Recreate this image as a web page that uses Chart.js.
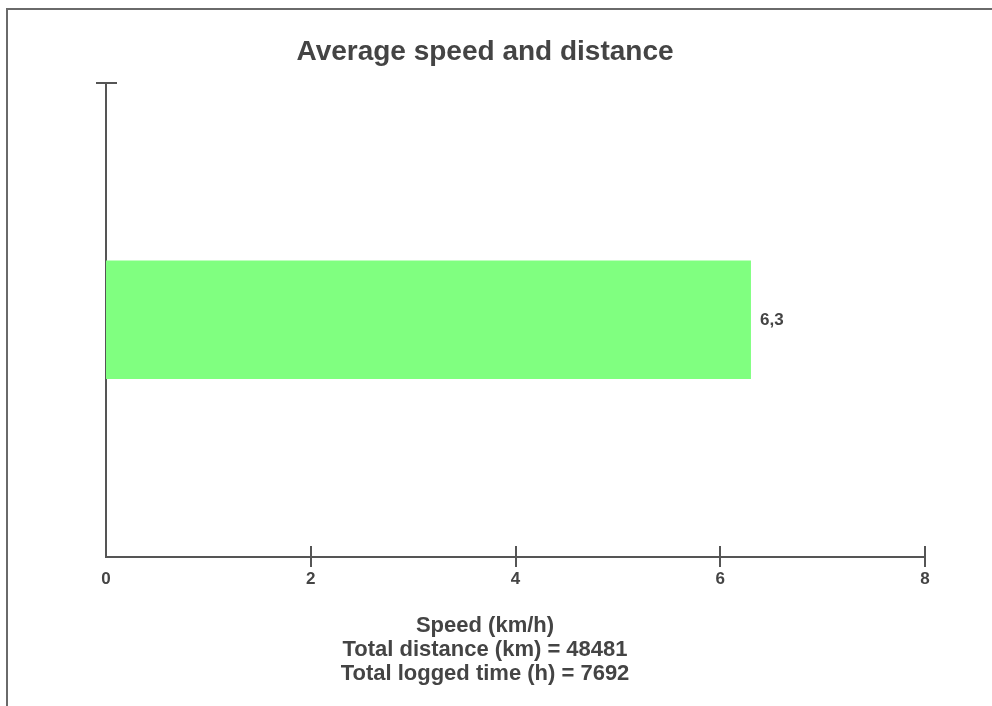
<!DOCTYPE html>
<html>
<head>
<meta charset="utf-8">
<script src="https://cdn.jsdelivr.net/npm/chart.js@4"></script>
<style>
    html, body { margin: 0; padding: 0; overflow: hidden; background: #fff; }
    #frame {
        position: absolute; left: 6px; top: 8px; width: 2000px; height: 2000px;
        border-top: 2px solid #6a6a6a; border-left: 2px solid #6a6a6a;
        pointer-events: none;
    }
    #wrap { position: absolute; left: 0; top: 0; width: 970px; height: 706px; }
</style>
</head>
<body>
<div id="frame"></div>
<div id="wrap"><canvas id="myChart"></canvas></div>
<script>
    // chart values
    var categories = ["Average speed"];
    var speedValues = [6.3];
    var xTickValues = [0, 2, 4, 6, 8];
    var totalDistance = 48481;
    var totalTime = 7692;

    var textColor = '#444444';
    var axisColor = '#555555';
    var fontFamily = '"Liberation Sans", Arial, sans-serif';

    function commaNumber(v) {
        return String(v).replace('.', ',');
    }

    // ticks crossing the axis lines, and the value label next to the bar
    var extras = {
        id: 'extras',
        afterDraw: function (chart) {
            var ctx = chart.ctx;
            var xs = chart.scales.x, ys = chart.scales.y;
            ctx.save();
            ctx.strokeStyle = axisColor;
            ctx.lineWidth = 2;
            ctx.beginPath();
            xs.ticks.forEach(function (t, i) {
                if (i === 0) return;
                var px = Math.round(xs.getPixelForTick(i));
                ctx.moveTo(px, xs.top - 11);
                ctx.lineTo(px, xs.top + 10);
            });
            var top = Math.round(ys.top);
            ctx.moveTo(ys.right - 10, top);
            ctx.lineTo(ys.right + 11, top);
            ctx.stroke();

            ctx.fillStyle = textColor;
            ctx.font = 'bold 17px ' + fontFamily;
            ctx.textAlign = 'left';
            ctx.textBaseline = 'middle';
            chart.getDatasetMeta(0).data.forEach(function (bar, i) {
                ctx.fillText(commaNumber(speedValues[i]), bar.x + 9, bar.y + 1);
            });
            ctx.restore();
        }
    };

    var ctx = document.getElementById('myChart');
    var chart = new Chart(ctx, {
        type: 'bar',
        data: {
            labels: categories,
            datasets: [{
                data: speedValues,
                backgroundColor: '#80ff80',
                borderWidth: 0,
                barPercentage: 0.25,
                categoryPercentage: 1
            }]
        },
        options: {
            indexAxis: 'y',
            responsive: true,
            maintainAspectRatio: false,
            animation: false,
            layout: { padding: { left: 45, right: 45, top: 35, bottom: 20 } },
            plugins: {
                legend: { display: false },
                tooltip: { enabled: false },
                title: {
                    display: true,
                    text: 'Average speed and distance',
                    color: textColor,
                    font: { family: fontFamily, size: 28, weight: 'bold' },
                    padding: { top: 0, bottom: 14 }
                },
                subtitle: {
                    display: true,
                    position: 'bottom',
                    text: [
                        'Speed (km/h)',
                        'Total distance (km) = ' + totalDistance,
                        'Total logged time (h) = ' + totalTime
                    ],
                    color: textColor,
                    font: { family: fontFamily, size: 22, weight: 'bold', lineHeight: 1.1 },
                    padding: { top: 20, bottom: 0 }
                }
            },
            scales: {
                x: {
                    min: xTickValues[0],
                    max: xTickValues[xTickValues.length - 1],
                    afterBuildTicks: function (axis) {
                        axis.ticks = xTickValues.map(function (v) { return { value: v }; });
                    },
                    grid: { display: false },
                    border: { display: true, color: axisColor, width: 2 },
                    ticks: {
                        color: textColor,
                        padding: 4,
                        font: { family: fontFamily, size: 17, weight: 'bold' },
                        callback: function (v) { return commaNumber(v); }
                    }
                },
                y: {
                    grid: { display: false },
                    border: { display: true, color: axisColor, width: 2 },
                    ticks: { display: false },
                    afterFit: function (axis) { axis.width = 61; }
                }
            }
        },
        plugins: [extras]
    });
</script>
</body>
</html>
